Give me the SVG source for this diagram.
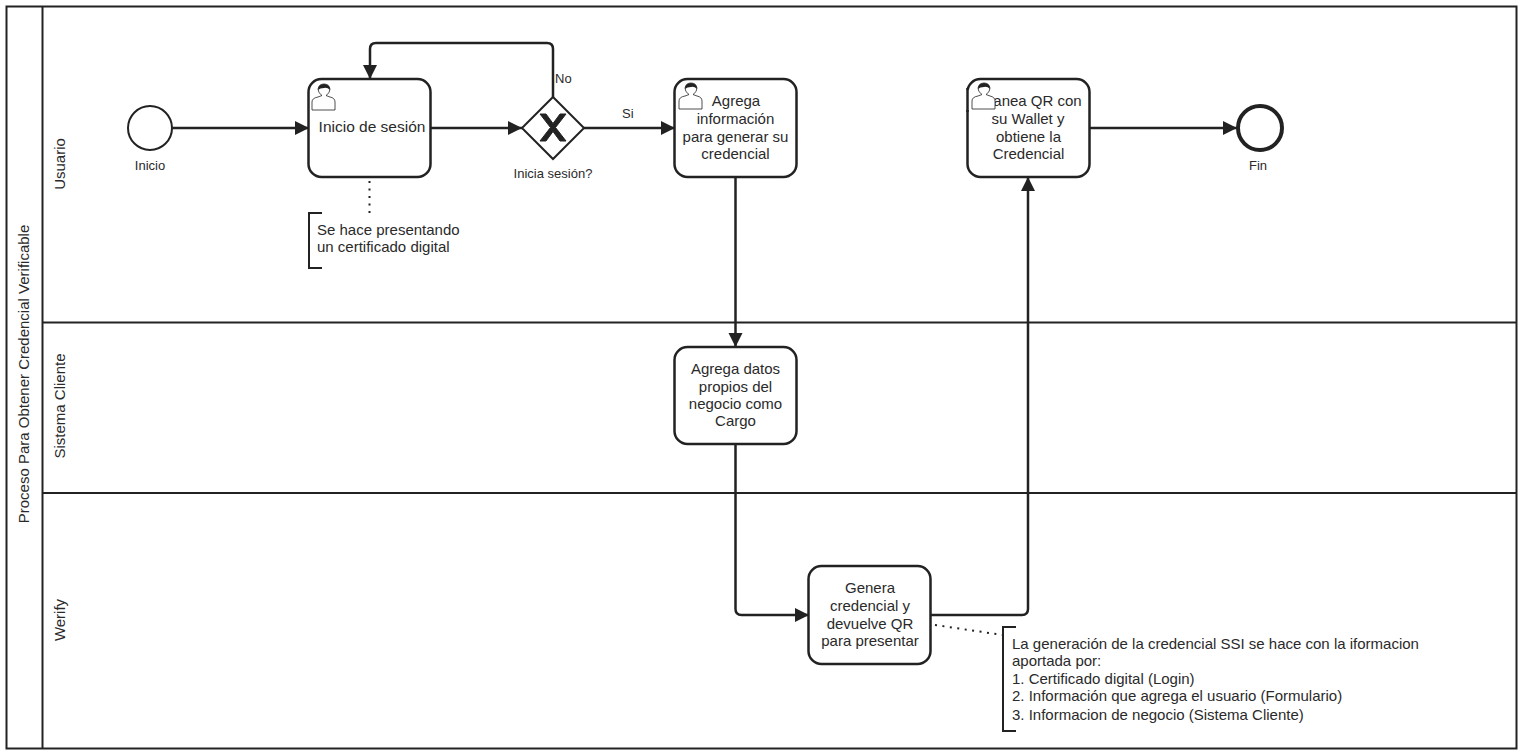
<svg xmlns="http://www.w3.org/2000/svg" width="1522" height="755" viewBox="0 0 1522 755">
<style>
text{font-family:"Liberation Sans",Arial,sans-serif;font-size:15px;fill:#2a2a2a}
.m{text-anchor:middle}
.s{font-size:13px}
.b{fill:#fff;stroke:#222;stroke-width:2.5}
.c{fill:none;stroke:#222;stroke-width:2.5;stroke-linejoin:round}
.d{fill:none;stroke:#222;stroke-width:2;stroke-dasharray:2 5.500}
.l{fill:none;stroke:#222;stroke-width:2}
.u{fill:#fff;stroke:#222;stroke-width:.8}
</style>
<defs>
<marker id="a" markerUnits="userSpaceOnUse" markerWidth="16" markerHeight="16" refX="15" refY="8" orient="auto"><path d="M1 1L15 8L1 15Z" fill="#222"/></marker>
<g id="user"><path class="u" d="M0 25V17Q0 13 6 12L10 10.500Q6 8 6 4Q7 -1 12 -1Q17 -1 18 4Q18 8 14 10.500L18 12Q23 13 23 17V25Z"/><path d="M6 5Q6 -1 12 -1Q18 -1 18 5Q15 2 12 3Q8 3 6 5Z" fill="#222"/></g>
</defs>
<g id="pool"><rect x="6.500" y="6.500" width="1510" height="742" fill="#fff" stroke="#222" stroke-width="2"/><line class="l" x1="42.500" y1="6" x2="42.500" y2="749"/><line class="l" x1="42" y1="322.500" x2="1517" y2="322.500"/><line class="l" x1="42" y1="493" x2="1517" y2="493"/>
<text class="m" transform="translate(29 374) rotate(-90)">Proceso Para Obtener Credencial Verificable</text>
<text class="m" transform="translate(65 164) rotate(-90)">Usuario</text>
<text class="m" transform="translate(65 406) rotate(-90)">Sistema Cliente</text>
<text class="m" transform="translate(65 620) rotate(-90)">Werify</text></g>
<g id="connectors">
<path class="c" d="M172 128H309" marker-end="url(#a)"/>
<path class="c" d="M430 128H522" marker-end="url(#a)"/>
<path class="c" d="M553 97V49Q553 43 547 43H376Q370 43 370 49V79" marker-end="url(#a)"/>
<path class="c" d="M584 128H675" marker-end="url(#a)"/>
<path class="c" d="M735.500 177V347" marker-end="url(#a)"/>
<path class="c" d="M735.500 444V609Q735.500 615 741.500 615H809" marker-end="url(#a)"/>
<path class="c" d="M931 615H1022Q1028 615 1028 609V177" marker-end="url(#a)"/>
<path class="c" d="M1089 128H1237" marker-end="url(#a)"/>
<path class="d" d="M369.500 181V214"/>
<path class="d" d="M935 625L1003 635"/>
<text class="s" x="555" y="83">No</text>
<text class="s" x="622" y="118">Si</text>
</g>
<g id="inicio"><circle cx="150" cy="128" r="22" fill="#fff" stroke="#222" stroke-width="2"/><text class="s m" x="150" y="170">Inicio</text></g>
<g id="login"><rect class="b" x="308.500" y="79" width="122" height="98" rx="13"/><use href="#user" x="312" y="85"/><text class="m" x="372" y="132" style="font-size:15.500px">Inicio de sesión</text></g>
<g id="gateway"><path fill="#fff" stroke="#222" stroke-width="2" d="M553 97L584 128L553 159L522 128Z"/><path d="M546 114L553 123.500L560 114H566L555.500 127.500L566 141H560L553 131.500L546 141H540L550.500 127.500L540 114Z" fill="#222" stroke="#222"/><text class="s m" x="553" y="178">Inicia sesión?</text></g>
<g id="agrega"><rect class="b" x="674.500" y="79" width="122" height="98" rx="13"/><use href="#user" x="679" y="84"/><text class="m" x="736" y="106">Agrega</text><text class="m" x="735.500" y="124">información</text><text class="m" x="735.500" y="142">para generar su</text><text class="m" x="735.500" y="159">credencial</text></g>
<g id="escanea"><rect class="b" x="967.500" y="79" width="122" height="98" rx="13"/><text class="m" x="1025" y="106">Escanea QR con</text><rect x="966" y="90" width="29" height="20" fill="#fff"/><path d="M967.500 88V112" stroke="#222" stroke-width="2.500"/><use href="#user" x="972" y="84"/><text class="m" x="1028" y="124">su Wallet y</text><text class="m" x="1028.500" y="142">obtiene la</text><text class="m" x="1028.500" y="159">Credencial</text></g>
<g id="fin"><circle cx="1260" cy="128" r="22" fill="#fff" stroke="#222" stroke-width="4"/><text class="s m" x="1258" y="170">Fin</text></g>
<g id="datos"><rect class="b" x="674.500" y="347" width="122" height="97" rx="13"/><text class="m" x="735.500" y="374">Agrega datos</text><text class="m" x="735.500" y="392">propios del</text><text class="m" x="735.500" y="409">negocio como</text><text class="m" x="735.500" y="426">Cargo</text></g>
<g id="genera"><rect class="b" x="808.500" y="566" width="122" height="98" rx="13"/><text class="m" x="870" y="593">Genera</text><text class="m" x="870" y="611">credencial y</text><text class="m" x="870" y="629">devuelve QR</text><text class="m" x="870" y="646">para presentar</text></g>
<g id="nota1"><path class="l" d="M322 213H309V268H322"/><text x="317" y="235">Se hace presentando</text><text x="317" y="252">un certificado digital</text></g>
<g id="nota2"><path class="l" d="M1016 627H1003V731H1016"/><text x="1012" y="649">La generación de la credencial SSI se hace con la iformacion</text><text x="1012" y="666">aportada por:</text><text x="1012" y="684">1. Certificado digital (Login)</text><text x="1012" y="701">2. Información que agrega el usuario (Formulario)</text><text x="1012" y="720">3. Informacion de negocio (Sistema Cliente)</text></g>
</svg>
